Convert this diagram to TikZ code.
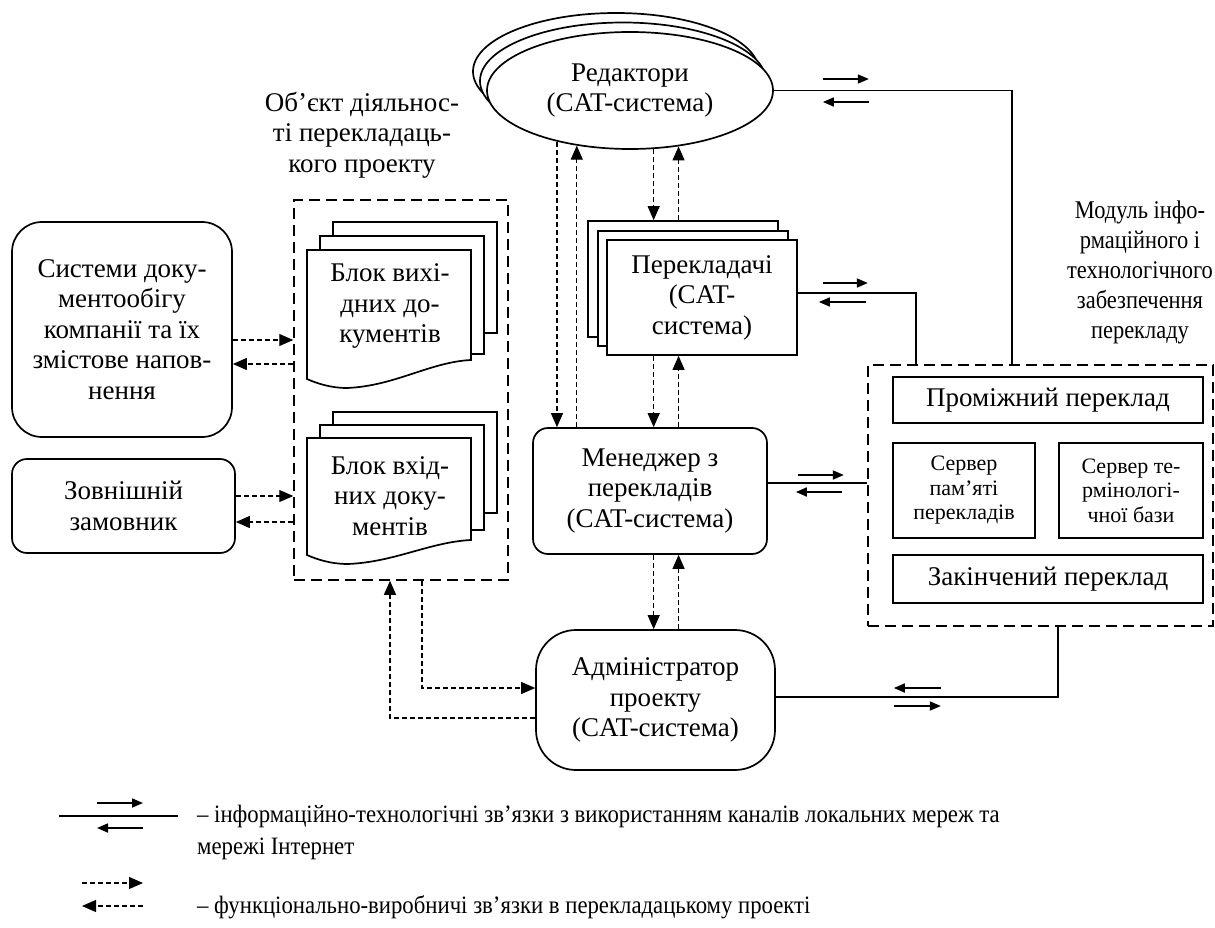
\documentclass[tikz,border=0pt]{standalone}
\usepackage{fontspec}
\setmainfont{Liberation Serif}
\newfontfamily\condserif[FakeStretch=0.88]{Liberation Serif}
\newfontfamily\legserif[FakeStretch=0.91]{Liberation Serif}
\usetikzlibrary{arrows.meta,shapes.geometric,calc}
\newcommand\fsmain{\fontsize{27}{30.5}\selectfont}
\newcommand\fssmall{\fontsize{22}{24.5}\selectfont}
\newcommand\fsleg{\legserif\fontsize{25}{32}\selectfont}
\newcommand\fsmod{\condserif\fontsize{25.5}{30}\selectfont}
\begin{document}
\begin{tikzpicture}[x=1pt,y=-1pt,
  shp/.style={draw, line width=1.7pt, fill=white, font=\fsmain, align=center, inner sep=0pt},
  rbox/.style={shp, rectangle, rounded corners=#1},
  pbox/.style={shp, rectangle},
  ebox/.style={shp, ellipse, minimum width=286pt, minimum height=117pt},
  dbox/.style={draw, line width=1.5pt, dash pattern=on 11pt off 6pt, rectangle, inner sep=0pt},
  info/.style={line width=1.7pt},
  iarr/.style={line width=1.7pt, -{Triangle[length=11pt,width=9pt]}},
  fconn/.style={line width=1.1pt, dash pattern=on 5pt off 3pt, -{Triangle[length=14pt,width=12pt]}},
  txt/.style={font=\fsmain, align=center, inner sep=0pt},
  doc/.style={draw, line width=1.7pt, fill=white}
]
\useasboundingbox[fill=white] (0,0) rectangle (1215,928);

% ---------- left boxes ----------
\node[rbox=30pt, minimum width=220pt, minimum height=215pt] (sys) at (122,329.5)
  {Системи доку-\\ментообігу\\компанії та їх\\змістове напов-\\нення};
\node[rbox=15pt, minimum width=223pt, minimum height=94pt] (cust) at (123.5,506)
  {Зовнішній\\замовник};

% ---------- object of activity ----------
\node[txt] (objlbl) at (362,135) {Об’єкт діяльнос-\\ті перекладаць-\\кого проекту};
\node[dbox, minimum width=214pt, minimum height=380pt] (obj) at (401,390) {};

% output documents
\draw[doc] (333,222) rectangle (497,333);
\draw[doc] (320,236) rectangle (484,354);
\draw[doc] (307,250) -- (471,250) -- (471,360)
  .. controls (430,362) and (395,386) .. (347,388)
  .. controls (330,388) and (316,383) .. (307,379) -- cycle;
\node[txt] (docout) at (390,306) {Блок вихі-\\дних до-\\кументів};

% input documents
\draw[doc] (333,412) rectangle (497,513);
\draw[doc] (320,425) rectangle (484,530);
\draw[doc] (307,438) -- (471,438) -- (471,540)
  .. controls (430,542) and (395,562) .. (348,564)
  .. controls (330,564) and (316,559) .. (307,555) -- cycle;
\node[txt] (docin) at (390,496) {Блок вхід-\\них доку-\\ментів};

% ---------- editors ----------
\node[ebox] (ell3) at (616,71.5) {};
\node[ebox] (ell2) at (623,81) {};
\node[ebox] (ell) at (630,90.5) {Редактори\\(CAT-система)};

% ---------- translators ----------
\node[pbox, minimum width=190pt, minimum height=116pt] (transB) at (683,279) {};
\node[pbox, minimum width=190pt, minimum height=115pt] (transM) at (693,288.5) {};
\node[pbox, minimum width=190pt, minimum height=115pt] (trans) at (702,297.5)
  {Перекладачі\\(CAT-\\система)};

% ---------- manager ----------
\node[rbox=15pt, minimum width=234pt, minimum height=126pt] (mgr) at (650,491)
  {Менеджер з\\перекладів\\(CAT-система)};

% ---------- administrator ----------
\node[rbox=40pt, minimum width=239pt, minimum height=140pt] (adm) at (655.5,700)
  {Адміністратор\\проекту\\(CAT-система)};

% ---------- module ----------
\node[align=center, inner sep=0pt, font=\fsmod] (modlbl) at (1140,272)
  {Модуль інфо-\\рмаційного і\\технологічного\\забезпечення\\перекладу};
\node[dbox, minimum width=345pt, minimum height=261pt] (mod) at (1040.5,495.5) {};
\node[pbox, minimum width=310pt, minimum height=46pt] (prom) at (1048,400) {Проміжний переклад};
\node[pbox, minimum width=142pt, minimum height=95pt, font=\fssmall] (srv1) at (964,490.5)
  {Сервер\\пам’яті\\перекладів};
\node[pbox, minimum width=144pt, minimum height=95pt, font=\fssmall] (srv2) at (1131,490.5)
  {Сервер те-\\рмінологі-\\чної бази};
\node[pbox, minimum width=310pt, minimum height=48pt] (fin) at (1048,579) {Закінчений переклад};

% ---------- functional (dashed) links ----------
\draw[fconn] ([yshift=-10.5]sys.east) coordinate (s1) -- (s1 -| obj.west);
\draw[fconn] ([yshift=-34.5]sys.east -| obj.west) coordinate (s2) -- (s2 -| sys.east);
\draw[fconn] ([yshift=10]cust.east) coordinate (c1) -- (c1 -| obj.west);
\draw[fconn] ([yshift=-16]cust.east -| obj.west) coordinate (c2) -- (c2 -| cust.east);

\draw[fconn] (ell.215) -- (ell.215 |- mgr.north);
\draw[fconn] (ell.226.3 |- mgr.north) -- (ell.226.3);
\draw[fconn] (ell.292.6) -- (ell.292.6 |- transB.north);
\draw[fconn] (ell.311.1 |- transB.north) -- (ell.311.1);
\draw[fconn] (ell.292.6 |- trans.south) -- (ell.292.6 |- mgr.north);
\draw[fconn] (ell.311.1 |- mgr.north) -- (ell.311.1 |- trans.south);
\draw[fconn] (ell.292.6 |- mgr.south) -- (ell.292.6 |- adm.north);
\draw[fconn] (ell.311.1 |- adm.north) -- (ell.311.1 |- mgr.south);

\draw[fconn] ([xshift=21]obj.south) |- ([yshift=12]adm.west);
\draw[fconn] ([yshift=-18]adm.west) -| ([xshift=-11]obj.south);

% ---------- information links ----------
\draw[info] (ell.east) -| ([xshift=-28.5]mod.north);
\draw[iarr] ([xshift=49,yshift=11.5]ell.east) -- ++(46,0);
\draw[iarr] ([xshift=95,yshift=-11.5]ell.east) -- ++(-46,0);

\draw[info] ([yshift=4.5]trans.east) -| ([xshift=-124.5]mod.north);
\draw[iarr] ([xshift=25,yshift=14.5]trans.east) -- ++(45,0);
\draw[iarr] ([xshift=68,yshift=-4.5]trans.east) -- ++(-47,0);

\draw[info] ([yshift=8]mgr.east) coordinate (m1) -- (m1 -| mod.west);
\draw[iarr] ([xshift=30,yshift=16]mgr.east) -- ++(46,0);
\draw[iarr] ([xshift=74,yshift=-1]mgr.east) -- ++(-46,0);

\draw[info] ([yshift=3]adm.east) -| ([xshift=17.5]mod.south);
\draw[iarr] ([xshift=165,yshift=12]adm.east) -- ++(-47,0);
\draw[iarr] ([xshift=118,yshift=-6]adm.east) -- ++(47,0);

% ---------- legend ----------
\coordinate (la) at (59,816);
\coordinate (lb) at (178,816);
\draw[info] (la) -- (lb);
\draw[iarr] ([xshift=38,yshift=13]la) -- ++(46,0);
\draw[iarr] ([xshift=84,yshift=-12]la) -- ++(-46,0);
\node[anchor=west, font=\fsleg, inner sep=0pt] (leg1) at (197,816)
  {– інформаційно-технологічні зв’язки з використанням каналів локальних мереж та};
\node[anchor=west, font=\fsleg, inner sep=0pt] (leg1b) at (197,849) {мережі Інтернет};

\coordinate (lc) at (82,883);
\coordinate (ld) at (143,906);
\draw[fconn] (lc) -- (lc -| ld);
\draw[fconn] (ld) -- (ld -| lc);
\node[anchor=west, font=\fsleg, inner sep=0pt] (leg2) at (197,907)
  {– функціонально-виробничі зв’язки в перекладацькому проекті};
\end{tikzpicture}
\end{document}
